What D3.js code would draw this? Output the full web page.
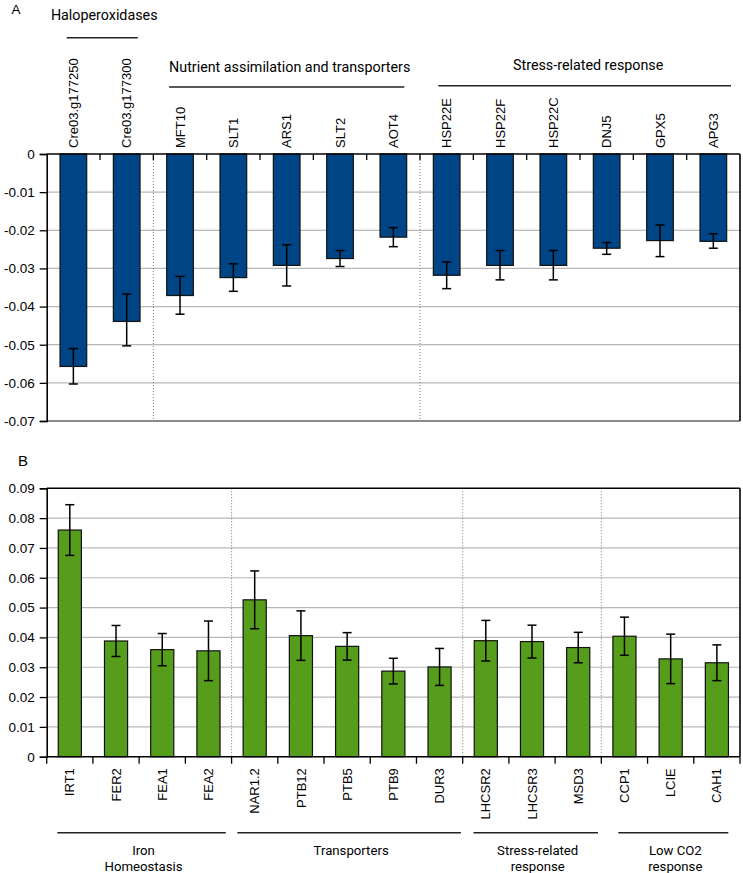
<!DOCTYPE html>
<html>
<head>
<meta charset="utf-8">
<script src="https://cdn.jsdelivr.net/npm/d3@7"></script>
<style>
  html, body { margin: 0; padding: 0; background: #fff; }
  svg { display: block; }
</style>
</head>
<body>
<div id="chart"></div>
<script>
// ---------- Panel A data ----------
const genesA = ["Cre03.g177250","Cre03.g177300","MFT10","SLT1","ARS1","SLT2","AOT4",
                "HSP22E","HSP22F","HSP22C","DNJ5","GPX5","APG3"];
const valuesA = [-0.0557,-0.0439,-0.0371,-0.0324,-0.0292,-0.0274,-0.0218,
                 -0.0318,-0.0292,-0.0292,-0.0247,-0.0227,-0.0229];
const errUpA  = [0.0047,0.0072,0.0050,0.0036,0.0054,0.0021,0.0025,
                 0.0035,0.0039,0.0039,0.0015,0.0041,0.0020];
const errLoA  = [0.0046,0.0064,0.0049,0.0036,0.0054,0.0021,0.0025,
                 0.0035,0.0038,0.0038,0.0016,0.0042,0.0018];
const groupsA = [
  {name: "Haloperoxidases", first: 0, last: 1},
  {name: "Nutrient assimilation and transporters", first: 2, last: 6},
  {name: "Stress-related response", first: 7, last: 12}
];
const separatorsA = [2, 7];
const ticksA = [0,-0.01,-0.02,-0.03,-0.04,-0.05,-0.06,-0.07];

// ---------- Panel B data ----------
const genesB = ["IRT1","FER2","FEA1","FEA2","NAR1.2","PTB12","PTB5","PTB9","DUR3",
                "LHCSR2","LHCSR3","MSD3","CCP1","LCIE","CAH1"];
const valuesB = [0.0760,0.0388,0.0359,0.0355,0.0526,0.0406,0.0370,0.0287,0.0301,
                 0.0389,0.0386,0.0366,0.0404,0.0328,0.0315];
const errB    = [0.0085,0.0052,0.0054,0.0100,0.0097,0.0083,0.0046,0.0043,0.0062,
                 0.0068,0.0055,0.0051,0.0064,0.0083,0.0060];
const groupsB = [
  {name: ["Iron","Homeostasis"], first: 0, last: 3},
  {name: ["Transporters"], first: 4, last: 8},
  {name: ["Stress-related","response"], first: 9, last: 11},
  {name: ["Low CO2","response"], first: 12, last: 14}
];
const separatorsB = [4, 9, 12];
const ticksB = [0,0.01,0.02,0.03,0.04,0.05,0.06,0.07,0.08,0.09];

// ---------- Drawing ----------
const W = 743, H = 873;
const svg = d3.select("#chart").append("svg").attr("width", W).attr("height", H);
const ARIAL = "'Liberation Sans', Arial, sans-serif";
const ROBOTO = "Roboto, 'Noto Sans', sans-serif";
const BLUE = "#004586", GREEN = "#579d1c", GRID = "#b8b8b8";
const TXT = "#000";

// Panel A layout
const A = {left: 46.7, right: 740, top: 154, bottom: 421};
const xA = d3.scaleBand().domain(genesA).range([A.left, A.right]).padding(0);
const yA = d3.scaleLinear().domain([0, -0.07]).range([A.top, A.bottom]);

// Panel B layout
const B = {left: 46.7, right: 740, top: 488.3, bottom: 756.7};
const xB = d3.scaleBand().domain(genesB).range([B.left, B.right]).padding(0);
const yB = d3.scaleLinear().domain([0, 0.09]).range([B.bottom, B.top]);

// panel letters
svg.append("text").attr("x", 11.5).attr("y", 14).attr("font-family", ARIAL)
  .attr("font-size", 13.5).attr("fill", TXT).text("A");
svg.append("text").attr("x", 18).attr("y", 466).attr("font-family", ARIAL)
  .attr("font-size", 15).attr("fill", TXT).text("B");

function grid(g, y, ticks, box, skip) {
  g.append("g").selectAll("line").data(ticks.filter(t => !skip.includes(t)))
    .join("line")
    .attr("x1", box.left).attr("x2", box.right)
    .attr("y1", d => y(d)).attr("y2", d => y(d))
    .attr("stroke", GRID).attr("stroke-width", 1.2);
}

// ----- Panel A -----
const gA = svg.append("g");
grid(gA, yA, ticksA, A, [0, -0.07]);
gA.append("line").attr("x1", A.left).attr("x2", A.right)
  .attr("y1", A.bottom).attr("y2", A.bottom).attr("stroke", "#8a8a8a").attr("stroke-width", 1.8);
gA.selectAll("line.sep").data(separatorsA).join("line").attr("class", "sep")
  .attr("x1", d => xA(genesA[d])).attr("x2", d => xA(genesA[d]))
  .attr("y1", A.top).attr("y2", A.bottom)
  .attr("stroke", "#777").attr("stroke-width", 1).attr("stroke-dasharray", "1,2");
const bwA = xA.bandwidth();
gA.selectAll("rect.bar").data(genesA).join("rect").attr("class", "bar")
  .attr("x", d => xA(d) + bwA * 0.25).attr("width", bwA * 0.5)
  .attr("y", yA(0)).attr("height", (d, i) => yA(valuesA[i]) - yA(0))
  .attr("fill", BLUE).attr("stroke", "#111").attr("stroke-width", 1.2);
genesA.forEach((d, i) => {
  const cx = xA(d) + bwA / 2;
  const y1 = yA(valuesA[i] + errUpA[i]), y2 = yA(valuesA[i] - errLoA[i]);
  gA.append("line").attr("x1", cx).attr("x2", cx).attr("y1", y1).attr("y2", y2)
    .attr("stroke", "#000").attr("stroke-width", 1.5);
  [y1, y2].forEach(yy => gA.append("line").attr("x1", cx - 4.5).attr("x2", cx + 4.5)
    .attr("y1", yy).attr("y2", yy).attr("stroke", "#000").attr("stroke-width", 1.5));
});
const yAxisA = gA.append("g").attr("transform", `translate(${A.left},0)`)
  .call(d3.axisLeft(yA).tickValues(ticksA).tickSize(7).tickPadding(5)
    .tickFormat(d => d === 0 ? "0" : d3.format(".2f")(d).replace("−", "-")));
yAxisA.select(".domain").attr("stroke", "#000").attr("stroke-width", 1.6);
yAxisA.selectAll(".tick line").attr("stroke", "#000").attr("stroke-width", 1.3);
yAxisA.selectAll("text").attr("font-family", ARIAL).attr("font-size", 13.5).attr("fill", TXT);
gA.append("line").attr("x1", A.left).attr("x2", A.right).attr("y1", A.top).attr("y2", A.top)
  .attr("stroke", "#000").attr("stroke-width", 1.6);
gA.selectAll("line.xt").data(genesA.slice(1)).join("line").attr("class", "xt")
  .attr("x1", d => xA(d)).attr("x2", d => xA(d))
  .attr("y1", A.top).attr("y2", A.top + 6).attr("stroke", "#000").attr("stroke-width", 1.3);
gA.append("line").attr("x1", A.right).attr("x2", A.right).attr("y1", A.top).attr("y2", A.bottom)
  .attr("stroke", "#000").attr("stroke-width", 1.6);
gA.selectAll("text.cat").data(genesA).join("text").attr("class", "cat")
  .attr("transform", d => `translate(${xA(d) + bwA / 2 + 4.6},${A.top - 6}) rotate(-90)`)
  .attr("font-family", ARIAL).attr("font-size", 13).attr("fill", TXT)
  .attr("text-anchor", "start").text(d => d);
const groupLayoutA = [
  {l: 20, r: 15.6, ty: 19.5, tdx: 2},
  {l: 15.7, r: 15.7, ty: 72, tdx: 3},
  {l: 18.3, r: 9, ty: 70, tdx: 3.5}
];
const lineYA = [37.7, 87, 85.7];
groupsA.forEach((g, i) => {
  const lay = groupLayoutA[i];
  const x1 = xA(genesA[g.first]) + lay.l;
  const x2 = xA(genesA[g.last]) + bwA - lay.r;
  gA.append("line").attr("x1", x1).attr("x2", x2).attr("y1", lineYA[i]).attr("y2", lineYA[i])
    .attr("stroke", "#222").attr("stroke-width", 1.5);
  gA.append("text").attr("x", (x1 + x2) / 2 + lay.tdx).attr("y", lay.ty)
    .attr("text-anchor", "middle").attr("font-family", ROBOTO).attr("font-size", 14.3)
    .attr("fill", TXT).text(g.name);
});

// ----- Panel B -----
const gB = svg.append("g");
grid(gB, yB, ticksB, B, [0, 0.09]);
gB.selectAll("line.sep").data(separatorsB).join("line").attr("class", "sep")
  .attr("x1", d => xB(genesB[d])).attr("x2", d => xB(genesB[d]))
  .attr("y1", B.top).attr("y2", B.bottom)
  .attr("stroke", "#777").attr("stroke-width", 1).attr("stroke-dasharray", "1,2");
const bwB = xB.bandwidth();
gB.selectAll("rect.bar").data(genesB).join("rect").attr("class", "bar")
  .attr("x", d => xB(d) + bwB * 0.25).attr("width", bwB * 0.5)
  .attr("y", (d, i) => yB(valuesB[i])).attr("height", (d, i) => yB(0) - yB(valuesB[i]))
  .attr("fill", GREEN).attr("stroke", "#111").attr("stroke-width", 1.2);
genesB.forEach((d, i) => {
  const cx = xB(d) + bwB / 2;
  const y1 = yB(valuesB[i] + errB[i]), y2 = yB(valuesB[i] - errB[i]);
  gB.append("line").attr("x1", cx).attr("x2", cx).attr("y1", y1).attr("y2", y2)
    .attr("stroke", "#000").attr("stroke-width", 1.5);
  [y1, y2].forEach(yy => gB.append("line").attr("x1", cx - 4.5).attr("x2", cx + 4.5)
    .attr("y1", yy).attr("y2", yy).attr("stroke", "#000").attr("stroke-width", 1.5));
});
const yAxisB = gB.append("g").attr("transform", `translate(${B.left},0)`)
  .call(d3.axisLeft(yB).tickValues(ticksB).tickSize(7).tickPadding(5)
    .tickFormat(d => d === 0 ? "0" : d3.format(".2f")(d)));
yAxisB.select(".domain").attr("stroke", "#000").attr("stroke-width", 1.6);
yAxisB.selectAll(".tick line").attr("stroke", "#000").attr("stroke-width", 1.3);
yAxisB.selectAll("text").attr("font-family", ARIAL).attr("font-size", 13.5).attr("fill", TXT);
gB.append("line").attr("x1", B.left).attr("x2", B.right).attr("y1", B.top).attr("y2", B.top)
  .attr("stroke", "#000").attr("stroke-width", 1.6);
gB.append("line").attr("x1", B.right).attr("x2", B.right).attr("y1", B.top).attr("y2", B.bottom)
  .attr("stroke", "#000").attr("stroke-width", 1.6);
gB.append("line").attr("x1", B.left).attr("x2", B.right).attr("y1", B.bottom).attr("y2", B.bottom)
  .attr("stroke", "#000").attr("stroke-width", 1.6);
const boundsB = genesB.map(d => xB(d)).concat([B.right]);
gB.selectAll("line.xt").data(boundsB).join("line").attr("class", "xt")
  .attr("x1", d => d).attr("x2", d => d)
  .attr("y1", B.bottom).attr("y2", B.bottom + 7).attr("stroke", "#000").attr("stroke-width", 1.3);
gB.selectAll("text.cat").data(genesB).join("text").attr("class", "cat")
  .attr("transform", d => `translate(${xB(d) + bwB / 2 + 4.6},${B.bottom + 11.5}) rotate(-90)`)
  .attr("font-family", ARIAL).attr("font-size", 13).attr("fill", TXT)
  .attr("text-anchor", "end").text(d => d);
const groupLayoutB = [
  {l: 10.6, r: 5.8}, {l: 5.8, r: 1.8}, {l: 10.8, r: 3.4}, {l: 17, r: 11.7}
];
groupsB.forEach((g, i) => {
  const lay = groupLayoutB[i];
  const x1 = xB(genesB[g.first]) + lay.l;
  const x2 = xB(genesB[g.last]) + bwB - lay.r;
  gB.append("line").attr("x1", x1).attr("x2", x2).attr("y1", 832.7).attr("y2", 832.7)
    .attr("stroke", "#222").attr("stroke-width", 1.5);
  g.name.forEach((ln, k) => {
    gB.append("text").attr("text-anchor", "middle").attr("font-family", ROBOTO)
      .attr("font-size", 13.2).attr("fill", TXT)
      .attr("x", (x1 + x2) / 2 + 2).attr("y", 855 + k * 15.6).text(ln);
  });
});
</script>
</body>
</html>
